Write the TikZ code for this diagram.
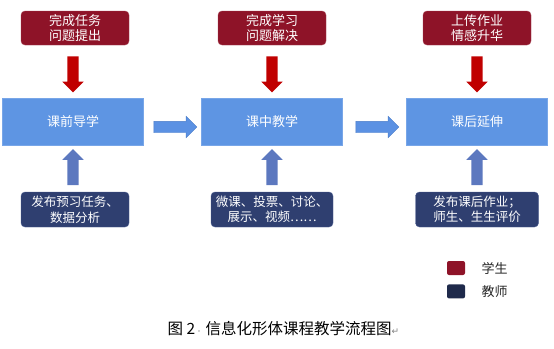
\documentclass[tikz,border=0pt]{standalone}
\usepackage{fontspec}
\setmainfont{Noto Sans CJK SC}
\newfontfamily\symfont{DejaVu Sans}
\usepackage{xcolor}
\usetikzlibrary{positioning, shapes.arrows}
\definecolor{stured}{HTML}{8E1328}
\definecolor{stageblue}{HTML}{5E95E3}
\definecolor{stageline}{HTML}{78A6E8}
\definecolor{teachblue}{HTML}{2F3F70}
\definecolor{teachline}{HTML}{4D5E92}
\definecolor{arrred}{HTML}{C00000}
\definecolor{arrblue}{HTML}{5B91E3}
\definecolor{arrbline}{HTML}{4A7CC8}
\definecolor{uparrblue}{HTML}{5C78BF}
\definecolor{legdark}{HTML}{1F2A4B}

\begin{document}
\begin{tikzpicture}[
    x=1pt, y=-1pt,
    font=\fontsize{13}{15}\selectfont,
    every node/.style={align=center},
    box/.style={draw, inner sep=0pt, outer sep=0pt, text=white},
    stage/.style={box, fill=stageblue, draw=stageline, minimum width=141pt, minimum height=47pt},
    student/.style={box, fill=stured, draw=stured!80!white, rounded corners=4pt, minimum width=108pt, minimum height=34pt},
    teacher/.style={box, fill=teachblue, draw=teachline, rounded corners=4pt, minimum width=108pt, minimum height=35pt, font=\fontsize{12.5}{15.5}\selectfont},
    barrow/.style={single arrow, inner sep=5.5pt, outer sep=0pt, single arrow head extend=5pt, single arrow head indent=0pt, minimum height=36pt},
    downarr/.style={barrow, fill=arrred, shape border rotate=270},
    uparr/.style={barrow, fill=uparrblue, shape border rotate=90},
    rightarr/.style={barrow, fill=arrblue, draw=arrbline, minimum height=43pt},
    legsq/.style={draw=none, rounded corners=2pt, minimum width=18pt, minimum height=14pt, inner sep=0pt}
]
\useasboundingbox (0,0) rectangle (554,348);

% --- Stages ---
\node[stage] (pre) at (73,121.5) {课前导学};
\node[stage, right=58pt of pre] (mid) {课中教学};
\node[stage, right=64pt of mid] (post) {课后延伸};

% --- Student boxes ---
\node[student, above=53pt of pre, xshift=2pt] (spre) {完成任务\\问题提出};
\node[student, above=53pt of mid] (smid) {完成学习\\问题解决};
\node[student, above=53pt of post] (spost) {上传作业\\情感升华};

% --- Teacher boxes ---
\node[teacher, below=47pt of pre, xshift=2pt] (tpre) {发布预习任务、\\数据分析};
\node[teacher, below=47pt of mid, minimum width=122pt] (tmid) {微课、投票、讨论、\\展示、视频……};
\node[teacher, below=47pt of post, minimum width=123pt] (tpost) {发布课后作业；\\师生、生生评价};

% --- Arrows ---
\path (pre.north |- spre.south) -- node[downarr] (dpre) {} (pre.north);
\path (mid.north |- smid.south) -- node[downarr] (dmid) {} (mid.north);
\path (post.north |- spost.south) -- node[downarr] (dpost) {} (post.north);
\path (pre.south |- tpre.north) -- node[uparr, yshift=-1.5pt] (upre) {} (pre.south);
\path (mid.south |- tmid.north) -- node[uparr, yshift=-1.5pt] (umid) {} (mid.south);
\path (post.south |- tpost.north) -- node[uparr, yshift=-1.5pt] (upost) {} (post.south);
\path (pre.east) -- node[rightarr, yshift=-5.5pt] (hpre) {} (mid.west);
\path (mid.east) -- node[rightarr, yshift=-5.5pt] (hmid) {} (post.west);

% --- Legend ---
\node[legsq, fill=stured] (lstu) at (456,268) {};
\node[right=13pt of lstu, text=black!85] (lstut) {学生};
\node[legsq, fill=legdark, below=9pt of lstu] (ltea) {};
\node[right=13pt of ltea, text=black!85] (lteat) {教师};

% --- Caption ---
\node[anchor=west, font=\fontsize{15.5}{18}\selectfont] (cap) at (164,329)
  {图 2{\color{gray!70}\fontsize{8}{8}\selectfont·}\,信息化形体课程教学流程图{\symfont\color{gray}\fontsize{9}{9}\selectfont↵}};

\end{tikzpicture}
\end{document}
